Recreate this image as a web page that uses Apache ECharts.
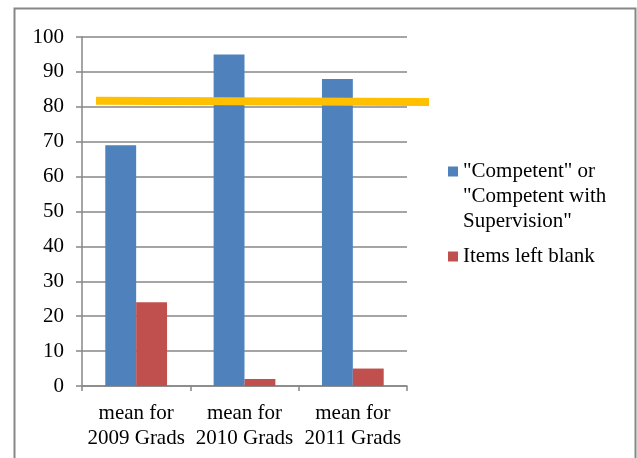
<!DOCTYPE html>
<html>
<head>
<meta charset="utf-8">
<script src="https://cdn.jsdelivr.net/npm/echarts@6/dist/echarts.min.js"></script>
<style>
  html, body { margin: 0; padding: 0; background: #fff; }
  #chart { width: 637px; height: 458px; }
</style>
</head>
<body>
<div id="chart"></div>
<script>
// Survey results by graduating class
const categories = ['mean for\n2009 Grads', 'mean for\n2010 Grads', 'mean for\n2011 Grads'];
const competentValues = [69, 95, 88];
const blankValues = [24, 2, 5];
// Benchmark line, start and end values
const benchmarkValues = [81.7, 81.4];
const yTicks = [0, 10, 20, 30, 40, 50, 60, 70, 80, 90, 100];

const SERIES_COMPETENT = '"Competent" or\n"Competent with\nSupervision"';
const SERIES_BLANK = 'Items left blank';
const COLOR_COMPETENT = '#4F81BD';
const COLOR_BLANK = '#C0504D';

const FONT = '"Liberation Serif", "Times New Roman", serif';
const FONT_SIZE = 21;
const GRID_COLOR = '#878787';

// Legend entries: swatch sits on the first line, wrapped lines are indented
function legendLabel(name) {
  const key = name === SERIES_COMPETENT ? 'mkA' : 'mkB';
  return name.split('\n').map((line, i) =>
    (i === 0 ? '{' + key + '|}' : '{sp|}') + '{t|' + line + '}'
  ).join('\n');
}

const chart = echarts.init(document.getElementById('chart'), null, { renderer: 'canvas' });

chart.setOption({
  animation: false,
  backgroundColor: '#ffffff',
  graphic: [{
    type: 'rect',
    shape: { x: 14.5, y: 8.5, width: 621, height: 470 },
    style: { fill: 'none', stroke: GRID_COLOR, lineWidth: 2 },
    silent: true,
    z: 0
  }],
  legend: {
    orient: 'vertical',
    left: 438,
    top: 154,
    icon: 'none',
    itemWidth: 0,
    itemHeight: 10,
    itemGap: 10,
    formatter: legendLabel,
    textStyle: {
      fontFamily: FONT,
      fontSize: FONT_SIZE,
      color: '#000',
      lineHeight: 25,
      rich: {
        mkA: { width: 10, height: 10, backgroundColor: COLOR_COMPETENT },
        mkB: { width: 10, height: 10, backgroundColor: COLOR_BLANK },
        sp: { width: 10, height: 10 },
        t: { fontFamily: FONT, fontSize: FONT_SIZE, color: '#000', lineHeight: 25, padding: [0, 0, 0, 5] }
      }
    },
    data: [{ name: SERIES_COMPETENT }, { name: SERIES_BLANK }]
  },
  grid: [
    { left: 82, right: 230, top: 37, bottom: 72, containLabel: false },
    { left: 96, right: 208, top: 37, bottom: 72, containLabel: false }
  ],
  xAxis: [{
    type: 'category',
    gridIndex: 0,
    data: categories,
    axisLine: { lineStyle: { color: GRID_COLOR, width: 1.5 } },
    axisTick: { show: true, length: 5, lineStyle: { color: GRID_COLOR, width: 1.5 } },
    axisLabel: { interval: 0, fontFamily: FONT, fontSize: FONT_SIZE, color: '#000', lineHeight: 25, margin: 15 }
  }, {
    type: 'value',
    gridIndex: 1,
    min: 0,
    max: 1,
    show: false
  }],
  yAxis: [{
    type: 'value',
    gridIndex: 0,
    min: yTicks[0],
    max: yTicks[yTicks.length - 1],
    interval: yTicks[1] - yTicks[0],
    axisLine: { show: true, lineStyle: { color: GRID_COLOR, width: 1.5 } },
    axisTick: { show: true, length: 6, lineStyle: { color: GRID_COLOR, width: 1.5 } },
    splitLine: { lineStyle: { color: GRID_COLOR, width: 1.5 } },
    axisLabel: { fontFamily: FONT, fontSize: FONT_SIZE, color: '#000', margin: 18 }
  }, {
    type: 'value',
    gridIndex: 1,
    min: yTicks[0],
    max: yTicks[yTicks.length - 1],
    show: false
  }],
  series: [{
    name: SERIES_COMPETENT,
    type: 'bar',
    xAxisIndex: 0,
    yAxisIndex: 0,
    data: competentValues,
    barGap: '0%',
    barCategoryGap: '43%',
    itemStyle: { color: COLOR_COMPETENT }
  }, {
    name: SERIES_BLANK,
    type: 'bar',
    xAxisIndex: 0,
    yAxisIndex: 0,
    data: blankValues,
    barGap: '0%',
    barCategoryGap: '43%',
    itemStyle: { color: COLOR_BLANK }
  }, {
    name: 'benchmark',
    type: 'line',
    xAxisIndex: 1,
    yAxisIndex: 1,
    data: [[0, benchmarkValues[0]], [1, benchmarkValues[1]]],
    symbol: 'none',
    lineStyle: { color: '#FFC000', width: 8, cap: 'butt' },
    z: 5
  }]
});
</script>
</body>
</html>
